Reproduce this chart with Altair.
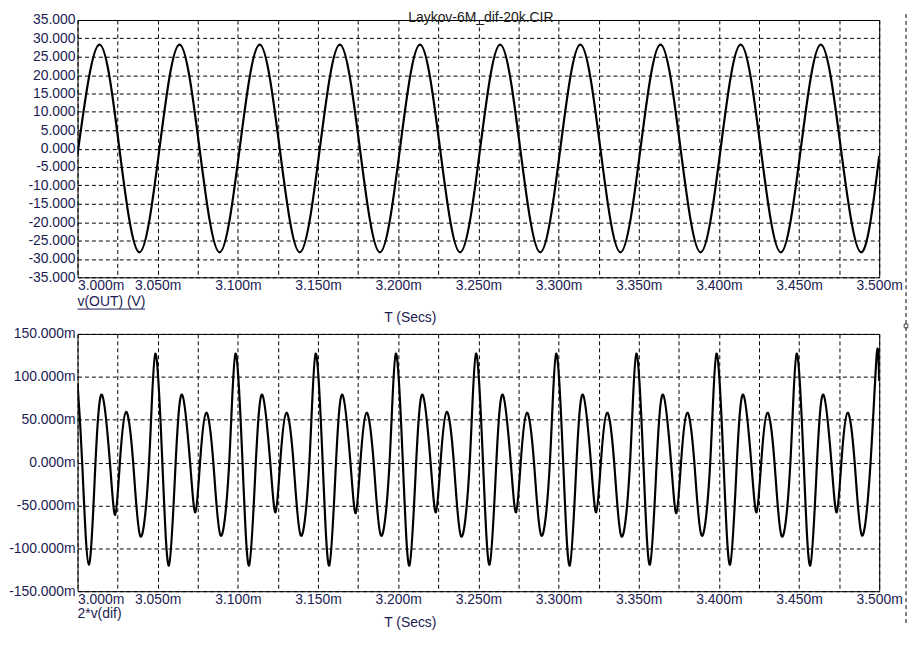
import altair as alt
import pandas as pd

# ---- data ----
# top trace: v(OUT) (V) -- start, then peak / zero / trough / zero per period
t_top = [3.0000,
         3.0136, 3.0261, 3.0386, 3.0511,
         3.0636, 3.0761, 3.0886, 3.1011,
         3.1136, 3.1261, 3.1386, 3.1511,
         3.1636, 3.1761, 3.1886, 3.2011,
         3.2136, 3.2261, 3.2386, 3.2511,
         3.2636, 3.2761, 3.2886, 3.3011,
         3.3136, 3.3261, 3.3386, 3.3511,
         3.3636, 3.3761, 3.3886, 3.4011,
         3.4136, 3.4261, 3.4386, 3.4511,
         3.4636, 3.4761, 3.4886, 3.5000]
v_top = [-1.5,
         28.3, 0.0, -28.2, 0.0,
         28.3, 0.0, -28.2, 0.0,
         28.3, 0.0, -28.2, 0.0,
         28.3, 0.0, -28.2, 0.0,
         28.3, 0.0, -28.2, 0.0,
         28.3, 0.0, -28.2, 0.0,
         28.3, 0.0, -28.2, 0.0,
         28.3, 0.0, -28.2, 0.0,
         28.3, 0.0, -28.2, 0.0,
         28.3, 0.0, -28.2, -2.0]

# bottom trace: 2*v(dif) in milli-units
t_bot = [3.0000,
         3.0029, 3.0070, 3.0112, 3.0153, 3.0202, 3.0235, 3.0264, 3.0302, 3.0347, 3.0392, 3.0446, 3.0485,
         3.0529, 3.0570, 3.0612, 3.0653, 3.0702, 3.0735, 3.0764, 3.0802, 3.0847, 3.0892, 3.0946, 3.0985,
         3.1029, 3.1070, 3.1112, 3.1153, 3.1202, 3.1235, 3.1264, 3.1302, 3.1347, 3.1392, 3.1446, 3.1485,
         3.1529, 3.1570, 3.1612, 3.1653, 3.1702, 3.1735, 3.1764, 3.1802, 3.1847, 3.1892, 3.1946, 3.1985,
         3.2029, 3.2070, 3.2112, 3.2153, 3.2202, 3.2235, 3.2264, 3.2302, 3.2347, 3.2392, 3.2446, 3.2485,
         3.2529, 3.2570, 3.2612, 3.2653, 3.2702, 3.2735, 3.2764, 3.2802, 3.2847, 3.2892, 3.2946, 3.2985,
         3.3029, 3.3070, 3.3112, 3.3153, 3.3202, 3.3235, 3.3264, 3.3302, 3.3347, 3.3392, 3.3446, 3.3485,
         3.3529, 3.3570, 3.3612, 3.3653, 3.3702, 3.3735, 3.3764, 3.3802, 3.3847, 3.3892, 3.3946, 3.3985,
         3.4029, 3.4070, 3.4112, 3.4153, 3.4202, 3.4235, 3.4264, 3.4302, 3.4347, 3.4392, 3.4446, 3.4485,
         3.4529, 3.4570, 3.4612, 3.4653, 3.4702, 3.4735, 3.4764, 3.4802, 3.4847, 3.4892, 3.4946, 3.4985,
         3.5000]
v_bot = [92.0,
         0, -119, 0, 79, 0, -61, 0, 59, 0, -86, 0, 127,
         0, -120, 0, 79, 0, -58, 0, 58, 0, -85, 0, 127,
         0, -120, 0, 79, 0, -58, 0, 58, 0, -85, 0, 127,
         0, -120, 0, 79, 0, -59, 0, 58, 0, -85, 0, 127,
         0, -120, 0, 79, 0, -58, 0, 59, 0, -86, 0, 127,
         0, -119, 0, 79, 0, -58, 0, 58, 0, -85, 0, 127,
         0, -120, 0, 79, 0, -58, 0, 58, 0, -86, 0, 127,
         0, -119, 0, 79, 0, -59, 0, 58, 0, -85, 0, 127,
         0, -119, 0, 79, 0, -58, 0, 58, 0, -86, 0, 127,
         0, -120, 0, 79, 0, -58, 0, 58, 0, -85, 0, 127,
         95.0]

x_grid = [3.000, 3.025, 3.050, 3.075, 3.100, 3.125, 3.150, 3.175, 3.200, 3.225,
          3.250, 3.275, 3.300, 3.325, 3.350, 3.375, 3.400, 3.425, 3.450, 3.475, 3.500]
y_top_ticks = [-35, -30, -25, -20, -15, -10, -5, 0, 5, 10, 15, 20, 25, 30, 35]
y_bot_ticks = [-150, -100, -50, 0, 50, 100, 150]

title_text = "Laykov-6M_dif-20k.CIR"
top_label = "v(OUT) (V)"
bot_label = "2*v(dif)"
x_title = "T (Secs)"

FONT = "Liberation Sans"
NAVY = "#1c1c52"
W, H = 807, 259

x_axis = alt.Axis(
    values=x_grid,
    labelExpr="(round(datum.value*1000) % 50 == 0) ? format(datum.value, '.3f') + 'm' : ''",
    labelAlign={"condition": {"test": "datum.value < 3.001", "value": "left"}, "value": "center"},
    labelBaseline="top", labelPadding=1, labelOverlap=False, labelFlush=False,
    labelBound=False, title=None,
)
x_enc = alt.X("t:Q", scale=alt.Scale(domain=[3.0, 3.5], nice=False, zero=False), axis=x_axis)

one = pd.DataFrame({"a": [0]})


def txt(s, x, y, align="left", color=NAVY, baseline="middle", size=14):
    return alt.Chart(one).mark_text(
        text=s, font=FONT, fontSize=size, align=align, baseline=baseline, color=color
    ).encode(x=alt.value(x), y=alt.value(y))


# ---- top panel ----
top_line = alt.Chart(pd.DataFrame({"t": t_top, "v": v_top})).mark_line(
    color="black", strokeWidth=2.2, interpolate="natural", clip=True
).encode(
    x=x_enc,
    y=alt.Y("v:Q", scale=alt.Scale(domain=[-35, 35], nice=False, zero=False),
            axis=alt.Axis(values=y_top_ticks, title=None, labelPadding=2.5,
                          labelExpr="(datum.value < 0 ? '-' : '') + format(abs(datum.value), '.3f')")),
)
top_ul = alt.Chart(one).mark_rule(color=NAVY, strokeWidth=1).encode(
    x=alt.value(0), x2=alt.value(68), y=alt.value(291))
top = alt.layer(
    top_line,
    txt(title_text, 406, -9, align="center", color="#202020", baseline="top"),
    txt(top_label, 0, 284),
    top_ul,
    txt(x_title, 335, 300, align="center"),
).properties(width=W, height=H)

# ---- bottom panel ----
bot_line = alt.Chart(pd.DataFrame({"t": t_bot, "v": v_bot})).mark_line(
    color="black", strokeWidth=2.2, interpolate="natural", clip=True
).encode(
    x=x_enc,
    y=alt.Y("v:Q", scale=alt.Scale(domain=[-150, 150], nice=False, zero=False),
            axis=alt.Axis(values=y_bot_ticks, title=None, labelPadding=2.5,
                          labelExpr="(datum.value < 0 ? '-' : '') + format(abs(datum.value), '.3f') + 'm'")),
)
dash_v = alt.Chart(one).mark_rule(color="black", strokeWidth=1, strokeDash=[4, 3]).encode(
    x=alt.value(834), y=alt.value(-322), y2=alt.value(292))
handles = alt.Chart(pd.DataFrame({"hx": [834], "hy": [-8]})).mark_square(
    size=14, filled=True, color="white", stroke="black", strokeWidth=1
).encode(x=alt.X("hx:Q", scale=None), y=alt.Y("hy:Q", scale=None))

bot = alt.layer(
    bot_line,
    txt(bot_label, 0, 282),
    txt(x_title, 335, 291, align="center"),
    dash_v, handles,
).properties(width=W, height=H)

chart = alt.vconcat(top, bot, spacing=57, bounds="flush", padding=0).configure_axis(
    labelFont=FONT, labelFontSize=14, labelColor=NAVY,
    gridColor="black", gridDash=[4, 3], gridOpacity=1, gridWidth=1,
    domain=False, ticks=False,
).configure_view(stroke="black", strokeWidth=1)

chart.save("out.html", embed_options={"renderer": "svg", "actions": False})
